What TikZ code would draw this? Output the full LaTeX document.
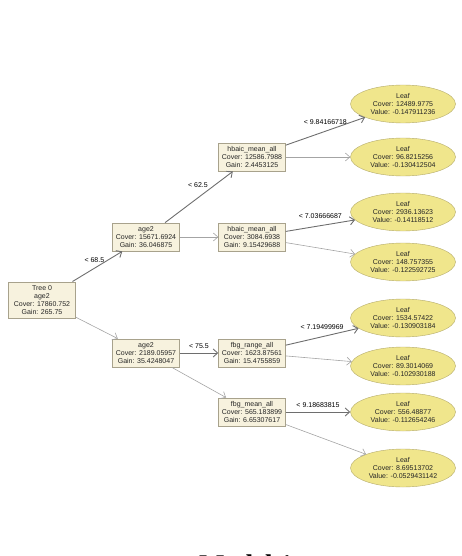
\documentclass[tikz,border=0pt]{standalone}
\usepackage{fontspec}
\setmainfont{Liberation Sans}
\newfontfamily\titlefont{Liberation Serif}
\usetikzlibrary{arrows.meta,shapes.geometric,positioning}
\definecolor{boxfill}{HTML}{F7F2DE}
\definecolor{boxline}{HTML}{A8A28C}
\definecolor{leaffill}{HTML}{F0E68C}
\definecolor{leafline}{HTML}{B4AA6A}
\definecolor{yesline}{HTML}{6E6E6E}
\definecolor{noline}{HTML}{A4A4A4}

\begin{document}
\begin{tikzpicture}[x=1pt, y=-1pt, on grid, font=\fontsize{7}{8.2}\selectfont,
		split/.style={draw=boxline, fill=boxfill, align=center, minimum width=67pt, inner xsep=2pt, inner ysep=3.5pt, text=black!85},
		leaf/.style={ellipse, draw=leafline, fill=leaffill, align=center, minimum width=105pt, minimum height=38pt, inner sep=0pt, text=black!85},
		yes/.style={draw=yesline, line width=0.9pt, -{Straight Barb[length=4.5pt, width=8pt]}},
		no/.style={draw=noline, line width=0.6pt, -{Straight Barb[length=4.5pt, width=8pt]}}]
		\useasboundingbox (0,0) rectangle (462,556);
		% Nodes
		\node[split] (root) at (42,300) {Tree 0\\age2\\Cover: 17860.752\\Gain: 265.75};
		\node[split] (ageA) [above right=63pt and 104pt of root] {age2\\Cover: 15671.6924\\Gain: 36.046875};
		\node[split] (ageB) [below right=53pt and 104pt of root] {age2\\Cover: 2189.05957\\Gain: 35.4248047};
		\node[split] (hbaA) [above right=80pt and 106pt of ageA] {hbaic\_mean\_all\\Cover: 12586.7988\\Gain: 2.4453125};
		\node[split] (hbaB) [right=106pt of ageA] {hbaic\_mean\_all\\Cover: 3084.6938\\Gain: 9.15429688};
		\node[split] (fbgR) [right=106pt of ageB] {fbg\_range\_all\\Cover: 1623.87561\\Gain: 15.4755859};
		\node[split] (fbgM) [below right=59pt and 106pt of ageB] {fbg\_mean\_all\\Cover: 565.183899\\Gain: 6.65307617};
		\node[leaf] (leaf1) [above right=53pt and 151pt of hbaA] {Leaf\\Cover: 12489.9775\\Value: -0.147911236};
		\node[leaf] (leaf2) [right=151pt of hbaA] {Leaf\\Cover: 96.8215256\\Value: -0.130412504};
		\node[leaf] (leaf3) [above right=25pt and 151pt of hbaB] {Leaf\\Cover: 2936.13623\\Value: -0.14118512};
		\node[leaf] (leaf4) [below right=25pt and 151pt of hbaB] {Leaf\\Cover: 148.757355\\Value: -0.122592725};
		\node[leaf] (leaf5) [above right=35pt and 151pt of fbgR] {Leaf\\Cover: 1534.57422\\Value: -0.130903184};
		\node[leaf] (leaf6) [below right=13pt and 151pt of fbgR] {Leaf\\Cover: 89.3014069\\Value: -0.102930188};
		\node[leaf] (leaf7) [right=151pt of fbgM] {Leaf\\Cover: 556.48877\\Value: -0.112654246};
		\node[leaf] (leaf8) [below right=56pt and 151pt of fbgM] {Leaf\\Cover: 8.69513702\\Value: -0.0529431142};
		% Edges
		\draw[yes] (root) -- node[above, xshift=-3pt] {< 68.5} (ageA);
		\draw[no] (root) -- (ageB);
		\draw[yes] (ageA) -- node[above=6pt, xshift=-1pt] {< 62.5} (hbaA);
		\draw[no] (ageA) -- (hbaB);
		\draw[yes] (ageB) -- node[above=1pt] {< 75.5} (fbgR);
		\draw[no] (ageB) -- (fbgM);
		\draw[yes] (hbaA) -- node[above=3pt] {< 9.84166718} (leaf1);
		\draw[no] (hbaA) -- (leaf2);
		\draw[yes] (hbaB) -- node[above=3pt] {< 7.03666687} (leaf3);
		\draw[no] (hbaB) -- (leaf4);
		\draw[yes] (fbgR) -- node[above=3pt] {< 7.19499969} (leaf5);
		\draw[no] (fbgR) -- (leaf6);
		\draw[yes] (fbgM) -- node[above=1pt] {< 9.18683815} (leaf7);
		\draw[no] (fbgM) -- (leaf8);
		% Caption
		\node[anchor=base, font=\titlefont\bfseries\fontsize{27}{30}\selectfont] (title) at (246,573) {Model 1};
	\end{tikzpicture}
\end{document}
